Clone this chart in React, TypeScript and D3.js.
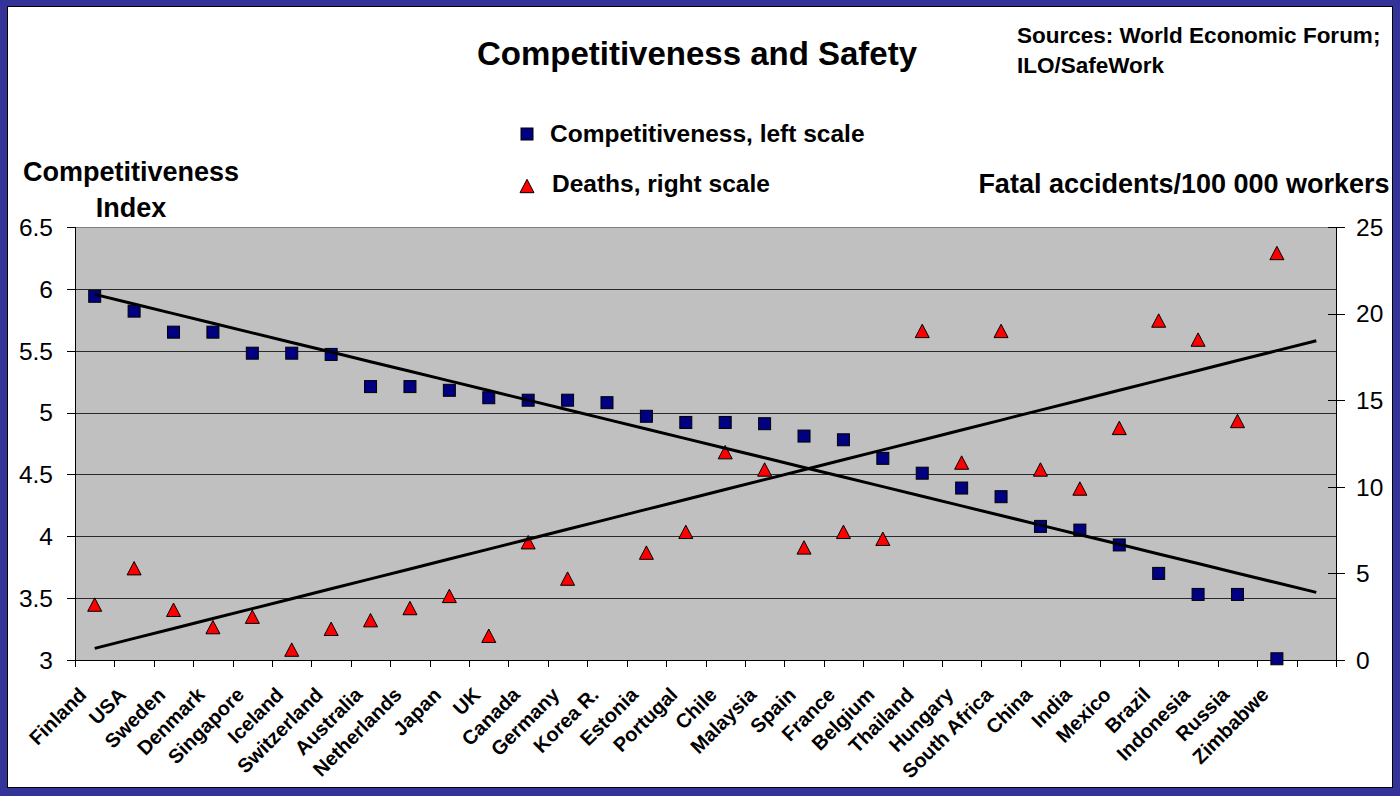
import React from 'react';
import * as d3 from 'd3';

// data
const countries = ['Finland', 'USA', 'Sweden', 'Denmark', 'Singapore', 'Iceland', 'Switzerland', 'Australia',
  'Netherlands', 'Japan', 'UK', 'Canada', 'Germany', 'Korea R.', 'Estonia', 'Portugal', 'Chile', 'Malaysia',
  'Spain', 'France', 'Belgium', 'Thailand', 'Hungary', 'South Africa', 'China', 'India', 'Mexico', 'Brazil',
  'Indonesia', 'Russia', 'Zimbabwe'];
const competitiveness = [5.94, 5.82, 5.65, 5.65, 5.48, 5.48, 5.47, 5.21, 5.21, 5.18, 5.12, 5.10, 5.10, 5.08,
  4.97, 4.92, 4.92, 4.91, 4.81, 4.78, 4.63, 4.51, 4.39, 4.32, 4.08, 4.05, 3.93, 3.70, 3.53, 3.53, 3.01];
// Korea R. is off the top of the right scale (hidden, but it still pulls the trend line)
const deaths = [3.2, 5.3, 2.9, 1.9, 2.5, 0.6, 1.8, 2.3, 3.0, 3.7, 1.4, 6.8, 4.7, 30.6, 6.2, 7.4, 12.0, 11.0,
  6.5, 7.4, 7.0, 19.0, 11.4, 19.0, 11.0, 9.9, 13.4, 19.6, 18.5, 13.8, 23.5];
const leftTicks = [3, 3.5, 4, 4.5, 5, 5.5, 6, 6.5];
const rightTicks = [0, 5, 10, 15, 20, 25];

const W = 1400;
const H = 796;
const plot = { left: 75, right: 1336, top: 227, bottom: 660 };
const FONT = '"Liberation Sans", Arial, Helvetica, sans-serif';

function linearFit(values: number[]) {
  const xs = values.map((_, i) => i);
  const mx = d3.mean(xs)!;
  const my = d3.mean(values)!;
  const sxy = d3.sum(values, (v, i) => (i - mx) * (v - my));
  const sxx = d3.sum(xs, x => (x - mx) * (x - mx));
  const b = sxy / sxx;
  return (x: number) => my + b * (x - mx);
}

function triPath(cx: number, cy: number) {
  return `M${cx},${cy - 6.7}L${cx + 7},${cy + 6.7}L${cx - 7},${cy + 6.7}Z`;
}

export default function App() {
  const slots = d3.range(countries.length + 1); // one empty slot for the forecast
  const labels = [...countries, ''];
  const x = d3.scaleBand<number>().domain(slots).range([plot.left, plot.right]);
  const bw = x.bandwidth();
  const cx = (i: number) => x(i)! + bw / 2;
  const yL = d3.scaleLinear().domain([3, 6.5]).range([plot.bottom, plot.top]);
  const yR = d3.scaleLinear().domain([0, 25]).range([plot.bottom, plot.top]);

  const compFit = linearFit(competitiveness);
  const deathFit = linearFit(deaths);
  const compTrend = d3.line<number>().x(i => cx(i)).y(i => yL(compFit(i)))(slots)!;
  const deathTrend = d3.line<number>().x(i => cx(i)).y(i => yR(deathFit(i)))(slots)!;

  const boundaries = d3.range(slots.length + 1).map(i => plot.left + i * bw);

  return (
    <div style={{ position: 'absolute', left: 0, top: 0 }}>
      <svg width={W} height={H} style={{ display: 'block', fontFamily: FONT }}>
        <rect x={0} y={0} width={W} height={H} fill="#333399" />
        <rect x={7.5} y={6.5} width={1385} height={781} fill="#fff" stroke="#000" strokeWidth={1} />

        <text x={697} y={65} textAnchor="middle" fontSize={33} fontWeight="bold">Competitiveness and Safety</text>
        <text x={1017} y={43} fontSize={22.5} fontWeight="bold">Sources: World Economic Forum;</text>
        <text x={1017} y={73} fontSize={22.5} fontWeight="bold">ILO/SafeWork</text>

        {/* legend */}
        <rect x={521} y={128} width={12} height={12} fill="#000080" stroke="#000" />
        <text x={550} y={142} fontSize={24.5} fontWeight="bold">Competitiveness, left scale</text>
        <path d={triPath(527, 186)} fill="#ff0000" stroke="#000" />
        <text x={552} y={192} fontSize={24.5} fontWeight="bold">Deaths, right scale</text>

        <text x={131} y={181} textAnchor="middle" fontSize={27} fontWeight="bold">Competitiveness</text>
        <text x={131} y={217} textAnchor="middle" fontSize={27} fontWeight="bold">Index</text>
        <text x={1184} y={193} textAnchor="middle" fontSize={27} fontWeight="bold">Fatal accidents/100 000 workers</text>

        {/* plot area */}
        <rect x={plot.left} y={plot.top} width={plot.right - plot.left} height={plot.bottom - plot.top} fill="#c0c0c0" />
        <line x1={plot.left} x2={plot.right} y1={plot.top + 0.5} y2={plot.top + 0.5} stroke="#808080" />
        {leftTicks.filter(t => t > 3 && t < 6.5).map(t => (
          <line key={'g' + t} x1={plot.left} x2={plot.right} y1={Math.round(yL(t)) + 0.5} y2={Math.round(yL(t)) + 0.5} stroke="#2a2a2a" />
        ))}

        {/* left axis */}
        <line x1={plot.left + 0.5} x2={plot.left + 0.5} y1={plot.top} y2={plot.bottom} stroke="#000" />
        {leftTicks.map(t => (
          <g key={'l' + t}>
            <line x1={plot.left - 8} x2={plot.left} y1={Math.round(yL(t)) + 0.5} y2={Math.round(yL(t)) + 0.5} stroke="#000" />
            <text x={53} y={yL(t)} dy="0.36em" textAnchor="end" fontSize={24.5}>{String(t)}</text>
          </g>
        ))}

        {/* right axis */}
        <line x1={plot.right + 0.5} x2={plot.right + 0.5} y1={plot.top} y2={plot.bottom} stroke="#000" />
        {rightTicks.map(t => (
          <g key={'r' + t}>
            <line x1={plot.right - 8} x2={plot.right + 9} y1={Math.round(yR(t)) + 0.5} y2={Math.round(yR(t)) + 0.5} stroke="#000" />
            <text x={1356} y={yR(t)} dy="0.36em" fontSize={24.5}>{String(t)}</text>
          </g>
        ))}

        {/* bottom axis */}
        <line x1={plot.left} x2={plot.right} y1={plot.bottom + 0.5} y2={plot.bottom + 0.5} stroke="#000" />
        {boundaries.map((bx, i) => (
          <line key={'b' + i} x1={Math.round(bx) + 0.5} x2={Math.round(bx) + 0.5} y1={plot.bottom} y2={plot.bottom + 7} stroke="#000" />
        ))}
        {labels.map((lab, i) => (
          <text key={'x' + i} transform={`translate(${cx(i) - 7},${696}) rotate(-45)`} textAnchor="end"
            fontSize={20} fontWeight="bold">{lab}</text>
        ))}

        {/* markers */}
        {competitiveness.map((v, i) => (
          <rect key={'c' + i} x={cx(i) - 6} y={yL(v) - 6} width={12} height={12} fill="#000080" stroke="#000" />
        ))}
        {deaths.map((v, i) => (v <= 25 ?
          <path key={'d' + i} d={triPath(cx(i), yR(v))} fill="#ff0000" stroke="#000" /> : null
        ))}

        {/* trend lines */}
        <path d={compTrend} fill="none" stroke="#000" strokeWidth={3} />
        <path d={deathTrend} fill="none" stroke="#000" strokeWidth={3} />
      </svg>
    </div>
  );
}
